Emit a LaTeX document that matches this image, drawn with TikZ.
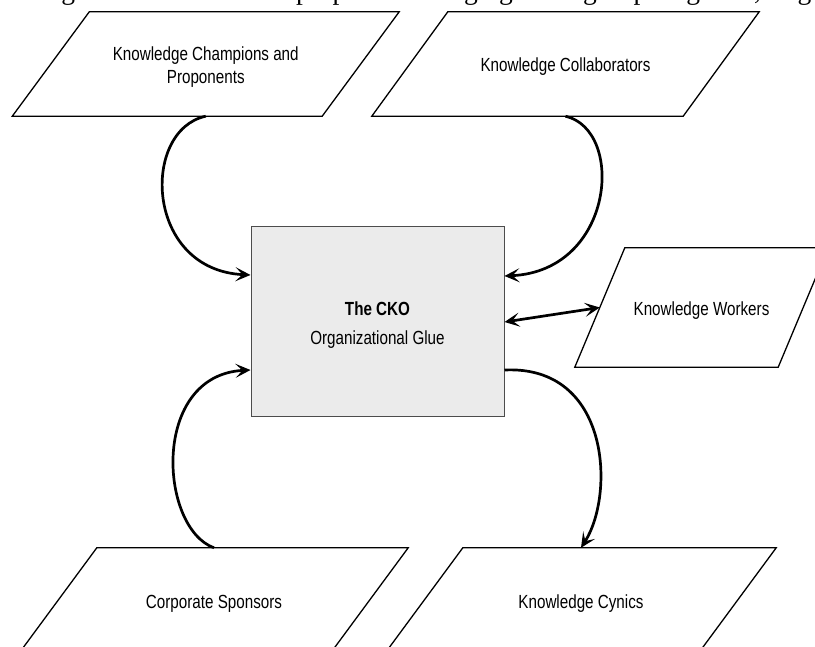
\documentclass[tikz,border=0pt]{standalone}
\usepackage{fontspec}
\setmainfont{Liberation Sans}[FakeStretch=0.8]
\newfontfamily\pagefont{Liberation Serif}
\usetikzlibrary{shapes.geometric, arrows.meta, positioning, calc}

% slanted outline round a group node: node name, half of the slant
\newcommand{\groupoutline}[2]{%
  \draw[groupline] ([xshift=#2]#1.north west) -- ([xshift=#2]#1.north east)
    -- ([xshift=-#2]#1.south east) -- ([xshift=-#2]#1.south west) -- cycle;}

\begin{document}
\begin{tikzpicture}[
    x=1pt, y=-1pt,
    group/.style={rectangle, minimum width=#1, minimum height=104pt, inner sep=0pt,
        align=center, font=\fontsize{19}{23}\selectfont},
    oneline/.style={text height=20pt, text depth=4pt},
    groupline/.style={draw, line width=1.3pt, line join=miter},
    corebox/.style={rectangle, draw=black!70, line width=1pt, fill=black!8,
        minimum width=253pt, minimum height=190pt, align=center,
        font=\fontsize{19}{23}\selectfont},
    link/.style={draw, line width=2.7pt, -{Stealth[length=15pt,width=14pt,inset=7pt]}},
    both/.style={draw, line width=2.7pt, {Stealth[length=15pt,width=14pt,inset=7pt]}-{Stealth[length=15pt,width=14pt,inset=7pt]}}
]
    \useasboundingbox (0,0) rectangle (815,647);
    \fill[white] (0,0) rectangle (815,647);
    \clip (0,0) rectangle (815,647);

    % Page text above the figure
    \node [anchor=base west, inner sep=0pt, font=\pagefont\fontsize{27.5}{30}\selectfont] (pagetext) at (-6,0)
        {owledge Officer serves the purpose of bringing these groups together, as g};

    % Central node
    \node [corebox, text height=49pt, text depth=4pt] (cko) at (377.5,322) {\textbf{The CKO}\\[6pt]Organizational Glue};

    % Groups around it
    \node [group=309.5pt, text height=43pt, text depth=4pt] (champions) at (205.75,64) {Knowledge Champions and\\Proponents};
    \node [group=311pt, oneline] (collaborators) at (565.5,64) {Knowledge Collaborators};
    \node [group=203pt, oneline, minimum height=119pt] (workers) at (701.5,307.5) {Knowledge Workers};
    \node [group=311pt, oneline] (sponsors) at (214,600) {Corporate Sponsors};
    \node [group=313pt, oneline] (cynics) at (581,600) {Knowledge Cynics};

    \groupoutline{champions}{38.5}
    \groupoutline{collaborators}{38}
    \groupoutline{workers}{25}
    \groupoutline{sponsors}{38.5}
    \groupoutline{cynics}{38.5}

    % Connect nodes
    \path [link] (champions.south) .. controls +(-65,14) and +(-106,-5) .. ([yshift=47pt]cko.west);
    \path [link] (collaborators.south) .. controls +(60,14) and +(110,-5) .. ([yshift=46pt]cko.east);
    \path [both] (cko.east) -- (workers.west);
    \path [link] (sponsors.north) .. controls +(-55,-20) and +(-100,5) .. ([yshift=-48pt]cko.west);
    \path [link] ([yshift=-48pt]cko.east) .. controls +(106,-5) and +(34,-53) .. (cynics.north);

\end{tikzpicture}
\end{document}
